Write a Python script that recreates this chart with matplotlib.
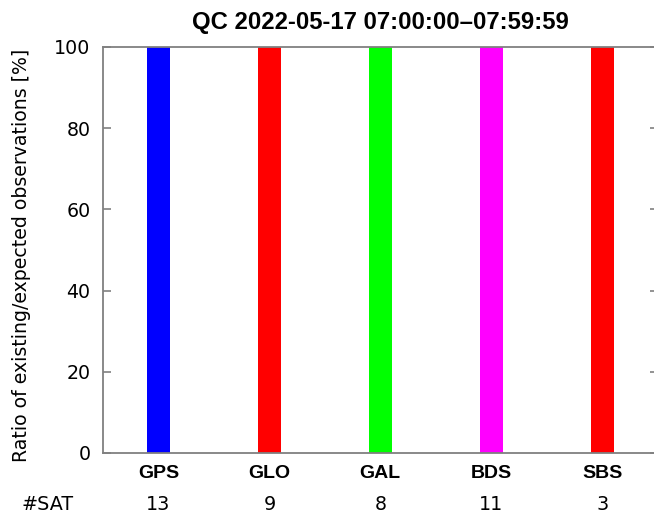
import matplotlib.pyplot as plt

systems = ["GPS", "GLO", "GAL", "BDS", "SBS"]
ratio = [100, 100, 100, 100, 100]
nsat = [13, 9, 8, 11, 3]
colors = ["#0000ff", "#ff0000", "#00ff00", "#ff00ff", "#ff0000"]
yticks = [0, 20, 40, 60, 80, 100]

fig = plt.figure(figsize=(6.54, 5.15), dpi=100)
ax = fig.add_axes([103 / 654, 62 / 515, 554.6 / 654, 406 / 515])

xpos = list(range(1, len(systems) + 1))
ax.bar(xpos, ratio, width=0.205, color=colors, zorder=2)

ax.set_xlim(0.5, len(systems) + 0.5)
ax.set_ylim(0, 100)
ax.set_yticks(yticks)
ax.set_yticklabels([str(t) for t in yticks], fontsize=13.7, family="DejaVu Sans")
ax.tick_params(axis="y", direction="in", length=6, width=1.2, color="#808080",
               left=True, right=True, pad=9)
ax.set_xticks(xpos)
ax.set_xticklabels(systems, fontsize=14, fontweight="bold", family="Liberation Sans")
ax.tick_params(axis="x", length=0, pad=9)

for s in ax.spines.values():
    s.set_color("#808080")
    s.set_linewidth(1.3)

# number of satellites row under the labels
trans = ax.get_xaxis_transform()
for x, n in zip(xpos, nsat):
    ax.text(x, -0.128, str(n), transform=trans, ha="center", va="center",
            fontsize=13.8, family="DejaVu Sans")
fig.text(47.5 / 654, 1 - 505 / 515, "#SAT", ha="center", va="center",
         fontsize=13.8, family="DejaVu Sans")

fig.text(22 / 654, 1 - 255 / 515, "Ratio of existing/expected observations [%]",
         rotation=90, ha="center", va="center", fontsize=13.6, family="DejaVu Sans")
fig.text(380 / 654, 1 - 22 / 515, "QC 2022-05-17 07:00:00\u201307:59:59",
         ha="center", va="center", fontsize=17.2, fontweight="bold",
         family="Liberation Sans")

plt.savefig("out.png")
